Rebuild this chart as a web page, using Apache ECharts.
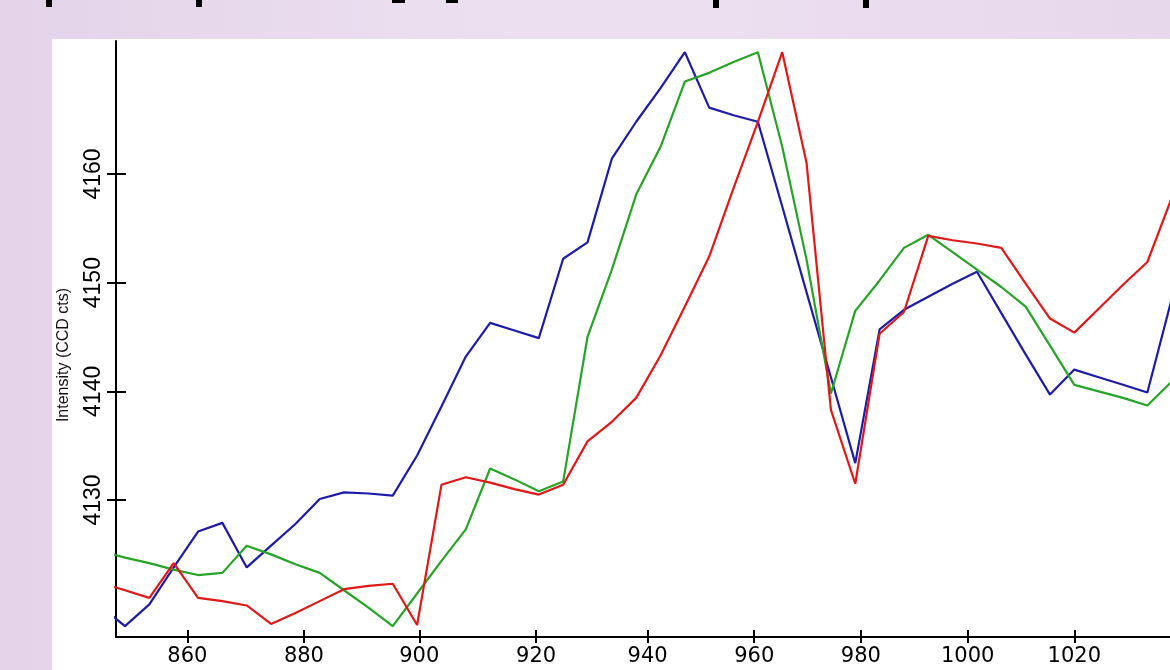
<!DOCTYPE html>
<html>
<head>
<meta charset="utf-8">
<script src="https://cdn.jsdelivr.net/npm/echarts@6/dist/echarts.min.js"></script>
<style>
  html, body { margin: 0; padding: 0; width: 1170px; height: 670px; overflow: hidden; }
  body { position: relative; background: linear-gradient(90deg, #e4d3e9 0%, #ebdeef 35%, #ecdff0 60%, #e8d8ec 100%); }
  #panel { position: absolute; left: 52px; top: 39px; width: 1118px; height: 631px; background: #ffffff; }
  .frag { position: absolute; top: 0; background: #000; }
</style>
</head>
<body>
<div class="frag" style="left:46px;width:6px;height:7px"></div>
<div class="frag" style="left:196px;width:6px;height:7px"></div>
<div class="frag" style="left:392px;width:13px;height:3px"></div>
<div class="frag" style="left:446px;width:12px;height:3px"></div>
<div class="frag" style="left:713px;width:6px;height:8px"></div>
<div class="frag" style="left:863px;width:6px;height:8px"></div>
<div id="panel"></div>
<script>
// Wavelength tick labels and the CCD pixel index (sample number) where each falls
const tickLabels = [860, 880, 900, 920, 940, 960, 980, 1000, 1020];
const tickPixel  = [3.56, 8.35, 13.09, 17.89, 22.47, 26.85, 31.23, 35.62, 40.00];
const yTicks = [4130, 4140, 4150, 4160];

// Intensity (CCD cts) at successive CCD pixels (sample 0, 1, 2, ...)
const blueSeries = [4120.2, 4118.4, 4120.4, 4123.8, 4127.1, 4127.9, 4123.8, 4125.8, 4127.8, 4130.1,
  4130.7, 4130.6, 4130.4, 4134.1, 4138.6, 4143.2, 4146.3, 4145.6, 4144.9, 4152.2,
  4153.7, 4161.4, 4164.8, 4167.9, 4171.2, 4166.1, 4165.4, 4164.8, 4157.0, 4149.1,
  4141.3, 4133.4, 4145.7, 4147.5, 4148.7, 4149.9, 4151.0, 4147.2, 4143.4, 4139.7,
  4142.0, 4141.3, 4140.6, 4139.9, 4148.5];
const greenSeries = [4125.3, 4124.7, 4124.2, 4123.6, 4123.1, 4123.3, 4125.8, 4125.0, 4124.1, 4123.3,
  4121.7, 4120.1, 4118.4, 4121.4, 4124.4, 4127.3, 4132.9, 4131.9, 4130.8, 4131.7,
  4145.0, 4151.2, 4158.1, 4162.5, 4168.5, 4169.3, 4170.3, 4171.2, 4162.5, 4152.1,
  4139.8, 4147.4, 4150.2, 4153.2, 4154.4, 4152.8, 4151.2, 4149.6, 4147.8, 4144.2,
  4140.6, 4140.0, 4139.4, 4138.7, 4140.9];
const redSeries = [4122.4, 4121.7, 4121.0, 4124.2, 4121.0, 4120.7, 4120.3, 4118.6, 4119.6, 4120.7,
  4121.8, 4122.1, 4122.3, 4118.5, 4131.4, 4132.1, 4131.6, 4131.0, 4130.5, 4131.4,
  4135.4, 4137.2, 4139.4, 4143.3, 4147.8, 4152.4, 4158.7, 4164.8, 4171.2, 4161.0,
  4138.3, 4131.5, 4145.3, 4147.3, 4154.3, 4153.9, 4153.6, 4153.2, 4149.9, 4146.7,
  4145.4, 4147.6, 4149.8, 4151.9, 4157.8];

const X_MIN = 0.63, X_MAX = 43.93;
const Y_MIN = 4117.4, Y_MAX = 4172.23;

const chart = echarts.init(document.getElementById('panel'), null, { renderer: 'canvas' });

function xLabel(v) {
  const i = tickPixel.findIndex(p => Math.abs(p - v) < 1e-6);
  return i >= 0 ? String(tickLabels[i]) : '';
}
const axisStroke = { color: '#000', width: 2 };

function toData(arr) { return arr.map((v, i) => [i, v]); }

const option = {
  animation: false,
  backgroundColor: 'transparent',
  grid: { left: 64, right: 0, top: 2, bottom: 33, containLabel: false, outerBoundsMode: 'none' },
  xAxis: [
    {
      type: 'value', min: X_MIN, max: X_MAX, position: 'bottom', offset: 0,
      axisLine: { show: true, onZero: false, lineStyle: axisStroke },
      axisTick: { show: true, customValues: tickPixel, length: 6, lineStyle: axisStroke },
      axisLabel: { show: true, customValues: tickPixel, formatter: xLabel, color: '#000',
        fontSize: 21, fontFamily: 'DejaVu Sans', margin: 9, hideOverlap: false },
      splitLine: { show: false }
    },
    {
      type: 'value', min: X_MIN, max: X_MAX, position: 'bottom', offset: 0,
      axisLine: { show: false },
      axisTick: { show: true, inside: true, customValues: tickPixel, length: 7, lineStyle: axisStroke },
      axisLabel: { show: false },
      splitLine: { show: false }
    }
  ],
  yAxis: [
    {
      type: 'value', min: Y_MIN, max: Y_MAX, position: 'left', offset: 0,
      name: 'Intensity (CCD cts)', nameLocation: 'middle', nameGap: 44, nameRotate: 90,
      nameTextStyle: { color: '#111', fontSize: 16, fontFamily: 'Liberation Sans', padding: [0, 32, 0, 0] },
      axisLine: { show: true, onZero: false, lineStyle: axisStroke },
      axisTick: { show: true, customValues: yTicks, length: 9, lineStyle: axisStroke },
      axisLabel: { show: true, customValues: yTicks, rotate: 90, color: '#000',
        formatter: v => String(Math.round(v)),
        fontSize: 23, fontFamily: 'Liberation Sans', margin: 11 },
      splitLine: { show: false }
    },
    {
      type: 'value', min: Y_MIN, max: Y_MAX, position: 'left', offset: 0,
      axisLine: { show: false },
      axisTick: { show: true, inside: true, customValues: yTicks, length: 10, lineStyle: axisStroke },
      axisLabel: { show: false },
      splitLine: { show: false }
    }
  ],
  series: [
    { name: 'blue', type: 'line', data: toData(blueSeries), showSymbol: false, symbol: 'none',
      lineStyle: { color: '#1c1ca8', width: 2.2 }, xAxisIndex: 0, yAxisIndex: 0 },
    { name: 'green', type: 'line', data: toData(greenSeries), showSymbol: false, symbol: 'none',
      lineStyle: { color: '#27a327', width: 2.2 }, xAxisIndex: 0, yAxisIndex: 0 },
    { name: 'red', type: 'line', data: toData(redSeries), showSymbol: false, symbol: 'none',
      lineStyle: { color: '#e01818', width: 2.2 }, xAxisIndex: 0, yAxisIndex: 0 }
  ]
};
chart.setOption(option);
</script>
</body>
</html>
